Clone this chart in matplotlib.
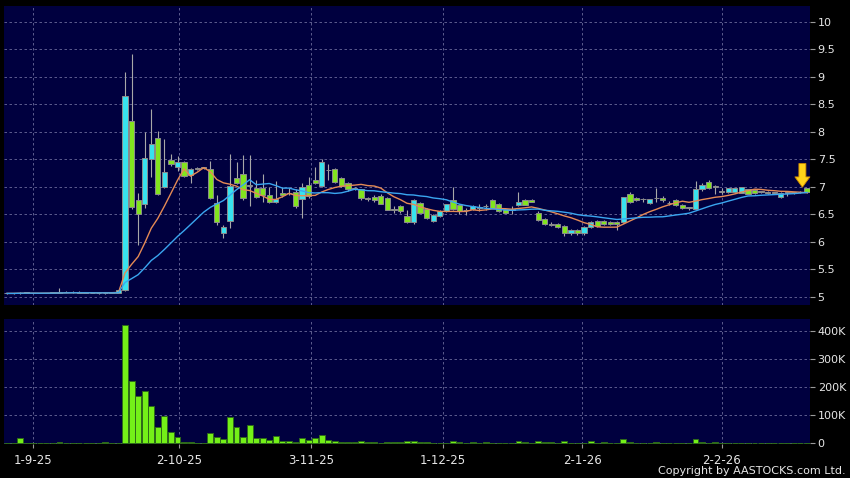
import matplotlib
matplotlib.use("Agg")
import matplotlib.pyplot as plt
import pandas as pd

# daily candles (index 0 = first visible trading day)
opens = [5.06, 5.06, 5.06, 5.07, 5.07, 5.06, 5.06, 5.07, 5.07, 5.09,
         5.08, 5.09, 5.07, 5.07, 5.06, 5.06, 5.07, 5.07, 5.13, 8.20,
         6.75, 6.68, 7.50, 7.88, 6.99, 7.49, 7.36, 7.45, 7.21, 7.33,
         7.34, 7.33, 6.70, 6.15, 6.38, 7.15, 7.23, 7.02, 6.97, 6.97,
         6.84, 6.72, 6.88, 6.88, 6.91, 6.78, 7.03, 7.12, 7.01, 7.30,
         7.32, 7.15, 7.06, 6.97, 6.95, 6.79, 6.82, 6.83, 6.79, 6.59,
         6.65, 6.47, 6.35, 6.71, 6.59, 6.38, 6.47, 6.56, 6.75, 6.67,
         6.57, 6.59, 6.62, 6.64, 6.76, 6.68, 6.59, 6.58, 6.66, 6.75,
         6.75, 6.52, 6.41, 6.31, 6.32, 6.28, 6.15, 6.21, 6.15, 6.26,
         6.38, 6.38, 6.36, 6.36, 6.36, 6.86, 6.80, 6.77, 6.70, 6.79,
         6.80, 6.70, 6.75, 6.67, 6.61, 6.59, 6.95, 7.08, 7.00, 6.91,
         6.91, 6.91, 6.89, 6.95, 6.94, 6.91, 6.91, 6.89, 6.81, 6.89,
         6.89, 6.90, 6.97]
highs = [5.07, 5.07, 5.08, 5.08, 5.07, 5.07, 5.07, 5.08, 5.16, 5.10,
         5.10, 5.10, 5.08, 5.07, 5.07, 5.08, 5.08, 5.13, 9.09, 9.41,
         6.89, 8.00, 8.41, 8.01, 7.86, 7.59, 7.56, 7.46, 7.34, 7.35,
         7.36, 7.47, 6.85, 6.30, 7.59, 7.45, 7.58, 7.58, 7.12, 7.23,
         6.99, 7.10, 7.00, 6.98, 6.95, 7.06, 7.18, 7.36, 7.50, 7.41,
         7.34, 7.17, 7.08, 6.99, 6.96, 6.82, 6.85, 6.86, 6.82, 6.65,
         6.67, 6.58, 6.77, 6.73, 6.61, 6.50, 6.57, 6.69, 7.00, 6.69,
         6.62, 6.66, 6.68, 6.68, 6.78, 6.70, 6.61, 6.64, 6.90, 6.77,
         6.77, 6.55, 6.43, 6.35, 6.34, 6.30, 6.23, 6.23, 6.28, 6.38,
         6.40, 6.40, 6.38, 6.38, 6.82, 6.90, 6.82, 6.80, 6.78, 6.98,
         6.83, 6.74, 6.78, 6.69, 6.63, 7.10, 7.06, 7.13, 7.03, 6.97,
         6.98, 6.98, 7.00, 6.96, 6.95, 6.93, 6.92, 6.91, 6.90, 6.92,
         6.91, 6.92, 6.98]
lows = [5.05, 5.05, 5.05, 5.06, 5.06, 5.06, 5.06, 5.06, 5.06, 5.08,
        5.06, 5.06, 5.06, 5.06, 5.05, 5.05, 5.06, 5.06, 5.10, 6.60,
        5.94, 6.61, 7.18, 6.85, 6.97, 7.38, 7.29, 7.18, 7.06, 7.30,
        7.32, 6.78, 6.30, 6.07, 6.24, 7.05, 6.76, 6.64, 6.80, 6.72,
        6.70, 6.70, 6.82, 6.85, 6.62, 6.43, 6.80, 7.04, 7.00, 7.12,
        7.06, 6.99, 6.93, 6.94, 6.76, 6.74, 6.72, 6.68, 6.57, 6.52,
        6.53, 6.34, 6.32, 6.52, 6.42, 6.35, 6.45, 6.54, 6.58, 6.50,
        6.48, 6.57, 6.56, 6.57, 6.61, 6.54, 6.52, 6.51, 6.65, 6.66,
        6.72, 6.38, 6.31, 6.28, 6.24, 6.11, 6.13, 6.13, 6.13, 6.24,
        6.27, 6.30, 6.30, 6.22, 6.34, 6.71, 6.74, 6.72, 6.68, 6.72,
        6.73, 6.66, 6.65, 6.60, 6.58, 6.57, 6.93, 6.95, 6.87, 6.86,
        6.89, 6.89, 6.88, 6.86, 6.87, 6.89, 6.87, 6.87, 6.80, 6.83,
        6.86, 6.88, 6.89]
closes = [5.06, 5.06, 5.07, 5.07, 5.06, 5.06, 5.07, 5.07, 5.09, 5.08,
          5.09, 5.07, 5.07, 5.06, 5.06, 5.07, 5.07, 5.12, 8.64, 6.63,
          6.50, 7.53, 7.77, 6.86, 7.27, 7.41, 7.44, 7.19, 7.32, 7.33,
          7.34, 6.79, 6.35, 6.26, 7.02, 7.07, 6.79, 7.03, 6.82, 6.85,
          6.72, 6.77, 6.84, 6.88, 6.65, 7.00, 6.83, 7.06, 7.44, 7.30,
          7.08, 7.01, 6.95, 6.96, 6.79, 6.78, 6.75, 6.69, 6.58, 6.58,
          6.55, 6.35, 6.75, 6.53, 6.43, 6.49, 6.56, 6.68, 6.59, 6.55,
          6.57, 6.65, 6.62, 6.64, 6.62, 6.55, 6.53, 6.58, 6.73, 6.67,
          6.73, 6.39, 6.32, 6.31, 6.26, 6.16, 6.21, 6.15, 6.26, 6.36,
          6.29, 6.32, 6.32, 6.32, 6.81, 6.73, 6.76, 6.77, 6.77, 6.79,
          6.75, 6.70, 6.67, 6.61, 6.61, 6.95, 7.03, 6.97, 7.00, 6.91,
          6.97, 6.97, 6.99, 6.87, 6.88, 6.91, 6.88, 6.89, 6.89, 6.89,
          6.89, 6.90, 6.90]
# volume in thousands of shares
volume_k = [2, 2, 18, 1, 1, 2, 1, 2, 5, 2,
            2, 2, 2, 1, 1, 3, 1, 1, 422, 224,
            169, 187, 132, 57, 99, 39, 22, 4, 3, 2,
            1, 36, 21, 14, 95, 59, 24, 64, 18, 18,
            12, 27, 10, 8, 6, 18, 11, 20, 30, 12,
            8, 5, 5, 5, 8, 4, 4, 2, 3, 3,
            3, 8, 7, 5, 5, 2, 1, 2, 8, 3,
            2, 3, 2, 3, 2, 2, 2, 2, 10, 4,
            2, 10, 4, 3, 2, 7, 2, 2, 2, 8,
            2, 5, 2, 2, 14, 3, 2, 2, 2, 6,
            2, 1, 2, 2, 2, 15, 5, 2, 3, 2,
            1, 1, 1, 1, 1, 1, 1, 1, 2, 1,
            1, 1, 1]

date_labels = ["1-9-25", "2-10-25", "3-11-25", "1-12-25", "2-1-26", "2-2-26"]
date_pos = [4, 26.2, 46.4, 66.5, 87.7, 109]
price_ticks = [5, 5.5, 6, 6.5, 7, 7.5, 8, 8.5, 9, 9.5, 10]
vol_ticks = [0, 100, 200, 300, 400]

BG = "#00003f"
GRID = "#6b6b9a"
TXT = "#e6e6e6"
CYAN = "#38e2ee"
GREEN = "#82e41e"

df = pd.DataFrame({"o": opens, "h": highs, "l": lows, "c": closes, "v": volume_k})
df["ma10"] = df["c"].rolling(10, min_periods=1).mean()
df["ma20"] = df["c"].rolling(20, min_periods=1).mean()
x = list(range(len(df)))

fig = plt.figure(figsize=(8.5, 4.78), dpi=100, facecolor="black")
ax1 = fig.add_axes([4 / 850, 1 - 305 / 478, 806 / 850, 299 / 478])
ax2 = fig.add_axes([4 / 850, 1 - 444 / 478, 806 / 850, 125 / 478])

for ax in (ax1, ax2):
    ax.set_facecolor(BG)
    for s in ax.spines.values():
        s.set_visible(False)
    ax.set_xlim(-0.46, len(df) - 0.54)
    ax.set_xticks(date_pos)
    ax.grid(True, color=GRID, linestyle=(0, (3, 3)), linewidth=0.6)
    ax.set_axisbelow(True)
    ax.yaxis.tick_right()
    ax.tick_params(axis="y", colors="#9a9a9a", labelcolor=TXT, labelsize=8,
                   length=3.5, width=0.8, pad=2)

# candles
cols = [CYAN if c > o else (GREEN if c < o else "#9a9a9a") for o, c in zip(df["o"], df["c"])]
ax1.vlines(x, df["l"], df["h"], color="#a8a8a8", linewidth=0.8, zorder=2)
bodies = [max(abs(c - o), 0.012) for o, c in zip(df["o"], df["c"])]
bottoms = [min(o, c) for o, c in zip(df["o"], df["c"])]
ax1.bar(x, bodies, bottom=bottoms, width=0.8, color=cols, edgecolor="#8c8c8c",
        linewidth=0.7, zorder=3)
ax1.plot(x, df["ma10"], color="#e58a55", linewidth=1.0, zorder=4)
ax1.plot(x, df["ma20"], color="#3aa6f0", linewidth=1.0, zorder=4)

ax1.set_ylim(4.849, 10.285)
ax1.set_yticks(price_ticks)
ax1.set_yticklabels([("%g" % t) for t in price_ticks])
ax1.tick_params(axis="x", length=0, labelbottom=False)

# latest-price marker
last = len(df) - 1
ax1.annotate("", xy=(last - 0.7, df["h"].iloc[-1] + 0.01),
             xytext=(last - 0.7, df["h"].iloc[-1] + 0.44),
             arrowprops=dict(arrowstyle="simple,head_width=0.9,head_length=0.62,tail_width=0.42",
                             mutation_scale=12, fc="#ffd21a", ec="#d08a00", lw=0.6,
                             shrinkA=0, shrinkB=0),
             zorder=6)

# volume
ax2.bar(x, df["v"], width=0.9, color="#74f018", edgecolor="#2e6a1a", linewidth=0.7, zorder=3)
ax2.set_ylim(-2.5, 444)
ax2.set_yticks(vol_ticks)
ax2.set_yticklabels(["0" if v == 0 else "%dK" % v for v in vol_ticks])
ax2.set_xticklabels(date_labels)
ax2.tick_params(axis="x", colors="#9a9a9a", labelcolor=TXT, labelsize=8.5,
                length=3, width=0.8, pad=4)

fig.text(846 / 850, 1 - 471 / 478, "Copyright by AASTOCKS.com Ltd.", color=TXT,
         fontsize=8, ha="right", va="center")

fig.savefig("out.png", dpi=100, facecolor="black")
